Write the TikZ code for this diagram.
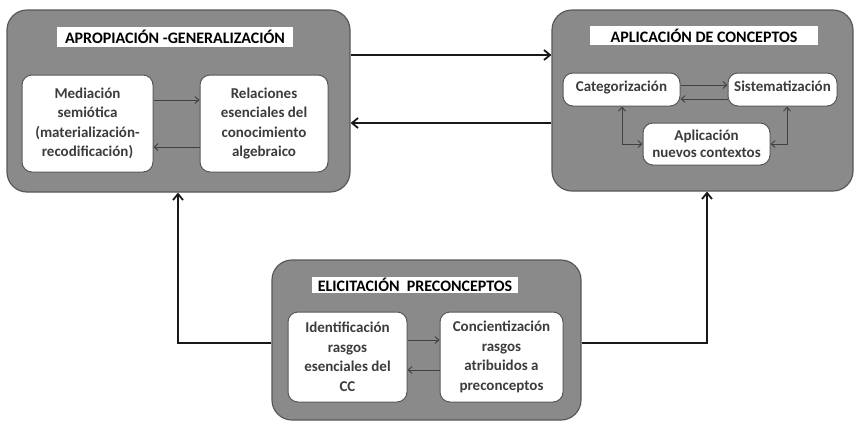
\documentclass[tikz,border=0pt]{standalone}
\usepackage{fontspec}
\setmainfont{Carlito}
\usetikzlibrary{arrows.meta}
\definecolor{outerfill}{RGB}{138,138,138}
\definecolor{outeredge}{RGB}{88,88,88}
\definecolor{innertext}{RGB}{60,60,60}
\tikzset{
  phase/.style={draw=outeredge,fill=outerfill,line width=1.2pt,rounded corners=20pt,minimum width=#1},
  heading/.style={fill=white,inner sep=0pt,font=\fontsize{16}{18}\selectfont\bfseries},
  stage/.style={draw=outeredge,fill=white,line width=1pt,rounded corners=10pt,align=center,inner sep=1pt,text=innertext,font=\fontsize{15}{19.5}\selectfont\bfseries},
  bigarrow/.style={-{Straight Barb[length=6pt,width=10pt]},line width=1.8pt,black!90},
  smallarrow/.style={-{Straight Barb[length=4pt,width=7pt]},line width=0.9pt,black!75},
  twoway/.style={{Straight Barb[length=4pt,width=7pt]}-{Straight Barb[length=4pt,width=7pt]},line width=0.9pt,black!75}
}
\begin{document}
\begin{tikzpicture}[x=1pt,y=-1pt]
\useasboundingbox (0,0) rectangle (855,421);

% apropiacion - generalizacion
\node [phase=343pt,minimum height=182pt] (AG) at (178.5,101) {};
\node [heading,minimum width=236pt,minimum height=20pt] (AG_T) at (175,37) {APROPIACIÓN -GENERALIZACIÓN};
\node [stage,minimum width=131pt,minimum height=97pt] (AG_M) at (87.5,123.5) {Mediación\\semiótica\\(materialización-\\recodificación)};
\node [stage,minimum width=128pt,minimum height=97pt] (AG_R) at (264,123.5) {Relaciones\\esenciales del\\conocimiento\\algebraico};

\draw [smallarrow] (AG_M.east |- 0,100) -- (AG_R.west |- 0,100);
\draw [smallarrow] (AG_R.west |- 0,147) -- (AG_M.east |- 0,147);

% aplicacion de conceptos
\node [phase=301pt,minimum height=181pt] (AC) at (702.5,100.5) {};
\node [heading,minimum width=228pt,minimum height=19pt] (AC_T) at (704,35.5) {APLICACIÓN DE CONCEPTOS};
\node [stage,minimum width=117pt,minimum height=33pt] (AC_C) at (621.5,89.5) {Categorización\rule[-6pt]{0pt}{0pt}};
\node [stage,minimum width=109pt,minimum height=33pt] (AC_S) at (782.5,89.5) {Sistematización\rule[-6pt]{0pt}{0pt}};
\node [stage,minimum width=127pt,minimum height=42pt] (AC_A) at (706.5,144) {Aplicación\\[-2pt]nuevos contextos};

\draw [smallarrow] (AC_C.east |- 0,85) -- (AC_S.west |- 0,85);
\draw [smallarrow] (AC_S.west |- 0,99) -- (AC_C.east |- 0,99);
\draw [twoway] (AC_C.south -| 622,0) |- (AC_A.west);
\draw [twoway] (AC_S.south -| 787,0) |- (AC_A.east);

% elicitacion preconceptos
\node [phase=309pt,minimum height=160pt] (EP) at (426.5,340) {};
\node [heading,minimum width=206pt,minimum height=16pt] (EP_T) at (415,285) {ELICITACIÓN\ \ PRECONCEPTOS};
\node [stage,minimum width=119pt,minimum height=90pt] (EP_I) at (347.5,357) {Identificación\\rasgos\\esenciales del\\CC};
\node [stage,minimum width=123pt,minimum height=90pt] (EP_C) at (501.5,357) {Concientización\\rasgos\\atribuidos a\\preconceptos};

\draw [smallarrow] (EP_I.east |- 0,340) -- (EP_C.west |- 0,340);
\draw [smallarrow] (EP_C.west |- 0,370) -- (EP_I.east |- 0,370);

% between the phases
\draw [bigarrow] (AG.east |- 0,55) -- (AC.west |- 0,55);
\draw [bigarrow] (AC.west |- 0,123) -- (AG.east |- 0,123);
\draw [bigarrow] (EP.west |- 0,343) -| (AG.south -| 178,0);
\draw [bigarrow] (EP.east |- 0,343) -| (AC.south -| 707,0);
\end{tikzpicture}
\end{document}
